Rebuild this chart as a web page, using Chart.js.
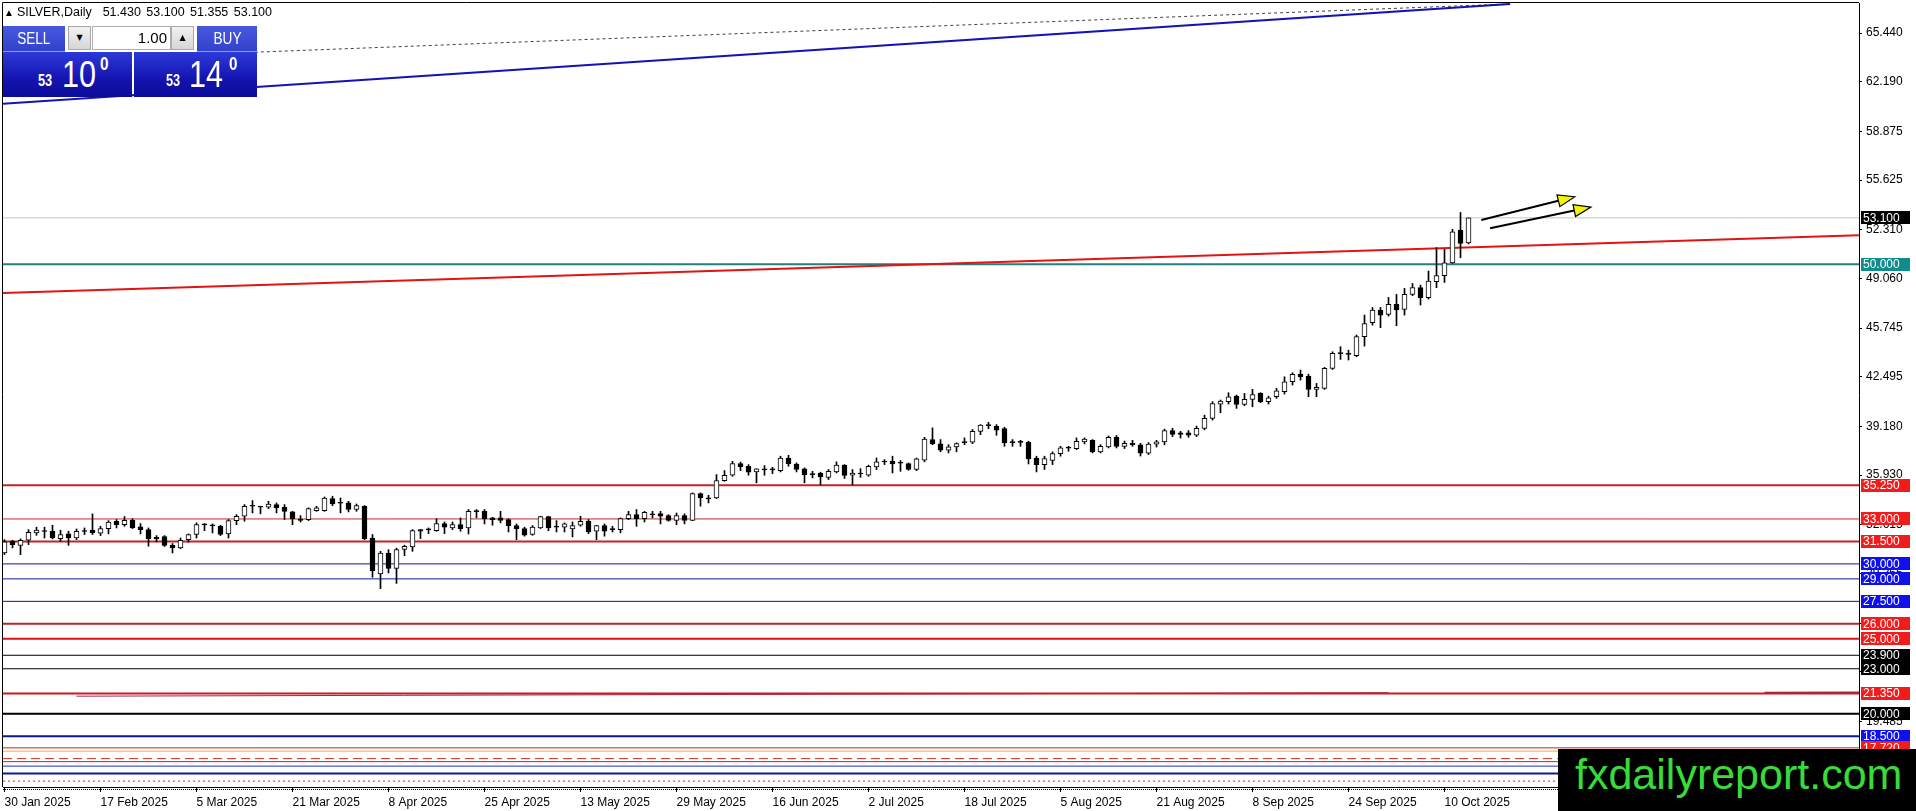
<!DOCTYPE html>
<html><head><meta charset="utf-8">
<script src="https://cdn.jsdelivr.net/npm/chart.js@4.4.1/dist/chart.umd.min.js"></script>
<style>
html,body{margin:0;padding:0;background:#fff;overflow:hidden;}
#wrap{position:relative;width:1916px;height:811px;}
#c{position:absolute;left:0;top:0;}
.abs{position:absolute;box-sizing:border-box;}
#hdr{left:4px;top:6px;font:12.5px "Liberation Sans",Arial,sans-serif;line-height:12px;color:#000;white-space:pre;word-spacing:2px;}
#hdr .tri{font-size:10px;vertical-align:0px;margin-right:3px;}
.hb{top:26px;height:26px;background:linear-gradient(#4858de,#3242cc);color:#fff;text-align:center;font:17px "Liberation Sans",Arial,sans-serif;line-height:26px;border-bottom:1px solid #8c9af0;}
.hb span{display:inline-block;transform:scaleX(0.8);}
.sb{top:26px;height:24px;background:linear-gradient(#f2f2f2,#d6d6d6);border:1px solid #a8a8a8;font:8px "DejaVu Sans",sans-serif;line-height:22px;text-align:center;color:#000;}
.inp{top:26px;height:24px;background:#fff;border:1px solid #b0b0b0;font:15px "Liberation Sans",Arial,sans-serif;line-height:22px;text-align:right;padding-right:3px;color:#000;}
.pb{top:52px;height:45px;background:linear-gradient(#2c3ad8,#1414b0 60%,#0c0c98);}
.t{position:absolute;color:#fff;font-family:"Liberation Sans",Arial,sans-serif;line-height:1;white-space:pre;transform-origin:0 0;}
.sm{font-size:16px;font-weight:bold;transform:scaleX(0.8);}
.bg{font-size:36px;transform:scaleX(0.85);}
.sp{font-size:18px;font-weight:bold;transform:scaleX(0.85);}
#wm{left:1558px;top:749px;width:358px;height:62px;background:#000;color:#38dc38;font:43px "Liberation Sans",Arial,sans-serif;line-height:43px;padding:4px 0 0 17px;white-space:nowrap;}
</style>
</head><body>
<div id="wrap">
<canvas id="c" width="1916" height="811"></canvas>
<div id="hdr" class="abs"><span class="tri">▲</span>SILVER,Daily  51.430 53.100 51.355 53.100</div>
<div class="abs hb" style="left:3px;width:62px"><span>SELL</span></div>
<div class="abs sb" style="left:68px;width:23px">▼</div>
<div class="abs inp" style="left:92px;width:79px">1.00</div>
<div class="abs sb" style="left:171px;width:23px">▲</div>
<div class="abs hb" style="left:197px;width:60px"><span>BUY</span></div>
<div class="abs pb" style="left:3px;width:129px"></div>
<div class="abs pb" style="left:134px;width:123px"></div>
<span class="t sm" style="left:38px;top:73px">53</span>
<span class="t bg" style="left:62px;top:57px">10</span>
<span class="t sp" style="left:100px;top:55px">0</span>
<span class="t sm" style="left:166px;top:73px">53</span>
<span class="t bg" style="left:189px;top:57px">14</span>
<span class="t sp" style="left:229px;top:55px">0</span>
<div id="wm" class="abs">fxdailyreport.com</div>
</div>
<script>
// ---- candle data (daily bars, index 0 = 30 Jan 2025) ----
const opens = [30.73,31.51,31.24,31.58,32.07,32.16,32.18,31.69,32.00,31.73,32.16,32.25,32.05,32.36,32.85,32.62,32.91,32.47,32.29,31.67,
31.82,31.24,31.07,31.62,31.96,32.60,32.58,32.51,32.00,32.89,33.18,33.85,33.78,33.78,33.96,33.78,33.47,32.96,32.96,33.56,
33.56,34.36,34.07,34.07,33.63,33.85,31.73,29.33,30.70,29.70,30.96,31.13,32.18,32.27,32.22,32.69,32.40,32.62,32.40,33.49,
33.51,33.07,33.07,32.96,32.56,32.36,31.96,32.40,33.16,32.45,32.45,32.34,32.58,32.85,32.18,32.56,32.29,32.29,33.02,33.29,
33.02,33.27,33.36,33.22,32.91,33.22,32.91,34.69,34.34,34.40,35.56,35.92,36.70,36.52,36.14,36.28,36.30,36.23,37.07,36.67,
36.34,35.96,36.07,35.78,36.14,36.59,35.92,36.00,35.92,36.47,36.80,36.85,36.74,36.70,36.30,36.92,38.30,38.01,37.59,37.81,
38.10,38.12,38.85,39.23,39.19,39.03,38.12,38.11,38.14,37.07,36.63,36.90,37.36,37.73,37.70,38.14,38.25,37.48,37.81,38.45,
37.85,38.05,37.95,37.40,38.00,38.15,38.90,38.65,38.75,38.60,39.05,39.71,40.67,40.83,41.20,40.65,40.98,41.38,40.83,41.16,
41.49,42.16,42.67,42.54,41.65,41.72,43.05,44.04,44.00,43.90,45.17,46.10,46.95,46.66,47.32,46.99,47.99,48.44,47.77,48.84,
49.24,50.10,52.29,51.43];
const highs = [31.62,31.58,31.67,32.29,32.45,32.45,32.58,32.25,32.18,32.33,32.40,33.34,32.51,32.89,32.96,33.16,33.02,32.69,32.40,31.89,
31.89,31.36,31.73,32.00,32.74,32.69,32.67,32.58,32.96,33.29,33.96,34.23,33.85,34.18,34.07,33.96,33.51,33.22,33.74,33.85,
34.47,34.52,34.40,34.18,34.00,33.89,31.96,30.84,30.95,31.05,31.25,32.29,32.31,32.40,33.02,32.80,32.80,33.07,33.63,33.63,
33.63,33.11,33.51,33.02,32.67,32.45,32.56,33.18,33.18,32.89,32.74,32.80,33.18,32.96,32.58,32.67,32.51,33.07,33.51,33.63,
33.51,33.51,33.51,33.29,33.40,33.34,34.74,34.74,34.58,35.96,36.23,36.85,36.79,36.63,36.36,36.56,36.45,37.19,37.25,36.74,
36.41,36.18,36.12,36.30,36.81,36.63,36.30,36.36,36.59,37.07,36.96,37.19,36.90,36.74,37.07,38.45,39.08,38.30,37.96,38.08,
38.41,38.97,39.30,39.45,39.30,39.12,38.30,38.25,38.19,37.19,37.19,37.48,37.85,37.85,38.41,38.41,38.30,37.96,38.54,38.57,
38.20,38.25,38.05,38.10,38.25,39.00,39.05,38.85,38.90,39.20,39.93,40.83,40.94,41.43,41.27,41.38,41.65,41.43,41.20,41.72,
42.49,42.76,42.94,42.67,42.05,43.12,44.16,44.50,44.27,45.28,46.61,47.12,47.12,47.79,47.99,48.39,48.72,48.61,49.55,51.11,
51.00,52.33,53.46,53.10];
const lows = [30.62,31.07,30.62,31.29,31.91,31.73,31.67,31.51,31.24,31.62,31.96,31.96,31.89,32.00,32.40,32.51,32.36,32.00,31.18,31.47,
31.16,30.73,31.02,31.45,31.73,32.22,32.07,31.89,31.73,32.62,32.85,33.40,33.34,33.69,33.40,32.96,32.62,32.80,32.89,33.51,
33.51,33.89,33.40,33.47,33.51,31.62,29.11,28.35,29.40,28.70,30.55,30.84,31.69,32.02,32.18,32.02,32.29,32.18,32.00,33.07,
32.67,32.58,32.74,32.13,31.62,31.85,31.91,32.36,32.22,32.13,32.13,31.80,32.51,32.02,31.62,31.85,32.13,32.07,32.96,32.51,
32.80,33.07,32.67,32.85,32.62,32.67,32.89,33.85,34.07,34.36,35.52,35.85,36.23,35.92,35.41,35.92,36.03,36.14,36.52,36.14,
35.41,35.74,35.29,35.63,36.07,35.70,35.29,35.78,35.85,36.30,36.63,36.07,36.18,36.25,36.23,36.81,37.96,37.48,37.41,37.48,
37.96,38.03,38.63,39.03,38.59,37.85,37.85,37.85,36.67,36.14,36.30,36.63,37.19,37.52,37.63,38.01,37.41,37.41,37.74,37.74,
37.70,37.85,37.20,37.30,37.80,37.95,38.50,38.40,38.45,38.50,38.95,39.60,40.09,40.67,40.38,40.56,40.49,40.76,40.67,41.05,
41.34,41.94,42.27,41.16,41.16,41.65,42.98,43.65,43.61,43.83,44.54,45.94,45.77,46.54,45.90,46.61,47.90,47.28,47.68,48.44,
48.79,50.06,50.44,51.355];
const closes = [31.47,31.29,31.58,32.11,32.25,32.22,31.73,31.96,31.73,32.18,32.18,32.07,32.36,32.80,32.62,32.91,32.40,32.29,31.69,31.78,
31.24,31.07,31.58,31.96,32.62,32.62,32.54,31.96,32.89,33.18,33.85,33.86,33.80,34.00,33.74,33.51,33.00,32.91,33.69,33.74,
34.40,34.00,34.05,33.63,33.89,31.69,29.55,30.73,29.70,30.95,31.18,32.22,32.29,32.29,32.69,32.45,32.62,32.36,33.51,33.51,
33.02,32.96,32.91,32.56,32.34,31.91,32.45,33.16,32.40,32.47,32.67,32.56,32.85,32.13,32.56,32.18,32.31,33.02,33.29,33.02,
33.45,33.29,33.18,32.91,33.22,32.91,34.69,34.40,34.36,35.56,35.92,36.70,36.47,36.12,36.34,36.30,36.28,37.07,36.67,36.30,
35.96,35.98,35.81,36.18,36.59,35.90,36.07,36.01,36.52,36.81,36.81,36.67,36.72,36.30,37.01,38.34,38.01,37.59,37.81,38.03,
38.12,38.85,39.26,39.24,38.92,38.08,38.10,38.12,37.01,36.63,37.03,37.36,37.74,37.74,38.19,38.34,37.48,37.85,38.45,37.85,
38.05,37.95,37.40,38.00,38.15,38.90,38.65,38.75,38.60,39.05,39.71,40.71,40.87,41.16,40.65,40.98,41.31,40.83,41.09,41.56,
42.16,42.65,42.49,41.65,41.78,43.05,44.05,44.05,43.99,45.17,46.05,46.95,46.61,47.32,46.95,47.99,48.44,47.77,48.88,49.24,
50.10,52.17,51.40,53.10];

// ---- axes ----
const xTickIdx = [0,12,24,36,48,60,72,84,96,108,120,132,144,156,168,180];
const xTickLabels = ['30 Jan 2025','17 Feb 2025','5 Mar 2025','21 Mar 2025','8 Apr 2025','25 Apr 2025','13 May 2025','29 May 2025',
  '16 Jun 2025','2 Jul 2025','18 Jul 2025','5 Aug 2025','21 Aug 2025','8 Sep 2025','24 Sep 2025','10 Oct 2025'];
const yTicks = [65.440,62.190,58.875,55.625,52.310,49.060,45.745,42.495,39.180,35.930,32.615,29.365,26.050,22.800,19.485,16.235];
const X_MIN = -0.1875, X_MAX = 231.8125;
const Y_MIN = 15.107, Y_MAX = 67.443;

// ---- horizontal levels ----
const levelPrices = [53.10,50.00,35.25,33.00,31.50,30.00,29.00,27.50,26.00,25.00,23.90,23.00,21.35,20.00,18.50,17.72,17.50,17.00,16.80,16.50,16.00,15.50];
const levelColors = ['#c4c4c4','#23807f','#c4222a','#c8282c','#c4222a','#14149c','#14149c','#14149c','#b8262a','#de1414','#000000','#000000','#d01820','#000000','#0c1a94','#c02424','#f0a848','#d02424','#c82424','#2030b0','#0c1a94','#d02424'];
const levelWidths = [1,2,2,1,2,1,1,1,2,2,1,1,2,2,2,1,1,1,1,1,2,1];
const levelDashes = [[],[],[],[],[],[],[],[],[],[],[],[],[],[],[],[],[],[9,5],[],[],[],[2,3]];

// ---- labels on price axis ----
const labelPrices = [53.10,50.00,35.25,33.00,31.50,30.00,29.00,27.50,26.00,25.00,23.90,23.00,21.35,20.00,18.50,17.72];
const labelColors = ['#000000','#118c8c','#f21c1c','#f21c1c','#f21c1c','#1010ee','#1010ee','#1010ee','#f21c1c','#f21c1c','#000000','#000000','#f21c1c','#000000','#1010ee','#f21c1c'];

// ---- trend lines (index, price) ----
const trendRed = [[-0.1875,48.08],[231.8,51.94]];
const trendBlue = [[-0.1875,60.72],[188.2,67.38]];
const trendDotted = [[-0.1875,63.51],[188.2,67.38]];
const trendPurple = [[9,21.17],[173,21.40]];
const trendPurple2 = [[220,21.40],[231.8,21.42]];

// ---- arrows (index, price) ----
const arrowFrom = [[184.6,52.96],[185.7,52.40]];
const arrowTo = [[196.3,54.51],[198.3,53.82]];

const idx = opens.map((_, i) => i);
const bodyData = idx.map(i => ({x: i, y: [opens[i], closes[i]]}));
const wickData = idx.map(i => ({x: i, y: [lows[i], highs[i]]}));
const bodyColors = idx.map(i => (closes[i] - opens[i] > 0.12 ? '#ffffff' : '#000000'));

function lineDs(pts, color, width, dash, order) {
  return {type: 'line', data: pts.map(p => ({x: p[0], y: p[1]})), borderColor: color, borderWidth: width,
    borderDash: dash || [], pointRadius: 0, fill: false, tension: 0, order: order};
}

const datasets = [];
levelPrices.forEach((p, k) => {
  datasets.push(lineDs([[X_MIN, p], [X_MAX, p]], levelColors[k], levelWidths[k], levelDashes[k], 3));
});
datasets.push(lineDs(trendPurple, '#8a2a6a', 1, [], 3));
datasets.push(lineDs(trendPurple2, '#8a2a6a', 2, [], 3));
datasets.push(lineDs(trendRed, '#e01414', 2, [], 2));
datasets.push(lineDs(trendBlue, '#1414b4', 2, [], 2));
datasets.push(lineDs(trendDotted, '#404040', 1, [3, 3], 2));
datasets.push({type: 'bar', data: wickData, backgroundColor: '#000', borderWidth: 0, barThickness: 1, grouped: false, order: 1});
datasets.push({type: 'bar', data: bodyData, backgroundColor: bodyColors, borderColor: '#000', borderWidth: 1,
  borderSkipped: false, barThickness: 5, grouped: false, minBarLength: 1, order: 0});

const overlay = {
  id: 'overlay',
  afterDatasetsDraw(chart) {
    const ctx = chart.ctx, xs = chart.scales.x, ys = chart.scales.y;
    ctx.save();
    for (let k = 0; k < arrowFrom.length; k++) {
      const x1 = xs.getPixelForValue(arrowFrom[k][0]), y1 = ys.getPixelForValue(arrowFrom[k][1]);
      const x2 = xs.getPixelForValue(arrowTo[k][0]), y2 = ys.getPixelForValue(arrowTo[k][1]);
      const a = Math.atan2(y2 - y1, x2 - x1), L = 17, W = 6;
      const bx = x2 - L * Math.cos(a), by = y2 - L * Math.sin(a);
      ctx.strokeStyle = '#000'; ctx.lineWidth = 2;
      ctx.beginPath(); ctx.moveTo(x1, y1); ctx.lineTo(bx, by); ctx.stroke();
      ctx.beginPath();
      ctx.moveTo(x2, y2);
      ctx.lineTo(bx + W * Math.sin(a), by - W * Math.cos(a));
      ctx.lineTo(bx - W * Math.sin(a), by + W * Math.cos(a));
      ctx.closePath();
      ctx.fillStyle = '#f4f40a'; ctx.fill();
      ctx.lineWidth = 1.2; ctx.stroke();
    }
    ctx.restore();
  },
  afterDraw(chart) {
    const ctx = chart.ctx, ca = chart.chartArea, ys = chart.scales.y;
    ctx.save();
    ctx.strokeStyle = '#000'; ctx.lineWidth = 1;
    ctx.beginPath();
    ctx.moveTo(ca.left - 0.5, ca.bottom); ctx.lineTo(ca.left - 0.5, ca.top - 0.5); ctx.lineTo(ca.right, ca.top - 0.5);
    ctx.stroke();
    ctx.setLineDash([1, 1]);
    ctx.beginPath(); ctx.moveTo(ca.left, ca.bottom + 2.5); ctx.lineTo(ca.right, ca.bottom + 2.5); ctx.stroke();
    ctx.setLineDash([]);
    ctx.font = '12px "Liberation Sans", Arial, sans-serif';
    ctx.textBaseline = 'middle';
    ctx.textAlign = 'left';
    labelPrices.forEach((p, k) => {
      const y = ys.getPixelForValue(p);
      ctx.fillStyle = labelColors[k];
      ctx.fillRect(ca.right + 2, Math.round(y - 6.5), 49, 13);
      ctx.fillStyle = '#fff';
      ctx.fillText(p.toFixed(3), ca.right + 4, y + 0.5);
    });
    ctx.restore();
  }
};

new Chart(document.getElementById('c'), {
  type: 'bar',
  data: {datasets},
  plugins: [overlay],
  options: {
    responsive: false, animation: false, events: [], devicePixelRatio: 1,
    layout: {padding: {left: 3, top: 3, right: 0, bottom: 0}},
    plugins: {legend: {display: false}, tooltip: {enabled: false}},
    scales: {
      x: {
        type: 'linear', min: X_MIN, max: X_MAX, offset: false,
        afterBuildTicks: s => { s.ticks = xTickIdx.map(v => ({value: v})); },
        afterFit: s => { s.height = 24; s.paddingLeft = 0; s.paddingRight = 0; },
        ticks: {align: 'start', maxRotation: 0, minRotation: 0, autoSkip: false, padding: 3, color: '#000',
          font: {size: 12, family: '"Liberation Sans", Arial, sans-serif'},
          callback: v => xTickLabels[xTickIdx.indexOf(v)]},
        grid: {drawOnChartArea: false, drawTicks: true, tickLength: 5, color: '#000', offset: false},
        border: {display: true, color: '#000', width: 1}
      },
      y: {
        type: 'linear', position: 'right', min: Y_MIN, max: Y_MAX,
        afterBuildTicks: s => { s.ticks = yTicks.map(v => ({value: v})); },
        afterFit: s => { s.width = 57; s.paddingTop = 0; s.paddingBottom = 0; },
        ticks: {padding: 4, color: '#000', autoSkip: false,
          font: {size: 12, family: '"Liberation Sans", Arial, sans-serif'},
          callback: v => Number(v).toFixed(3)},
        grid: {drawOnChartArea: false, drawTicks: true, tickLength: 3, color: '#000'},
        border: {display: true, color: '#000', width: 1}
      }
    }
  }
});
</script>
</body></html>
